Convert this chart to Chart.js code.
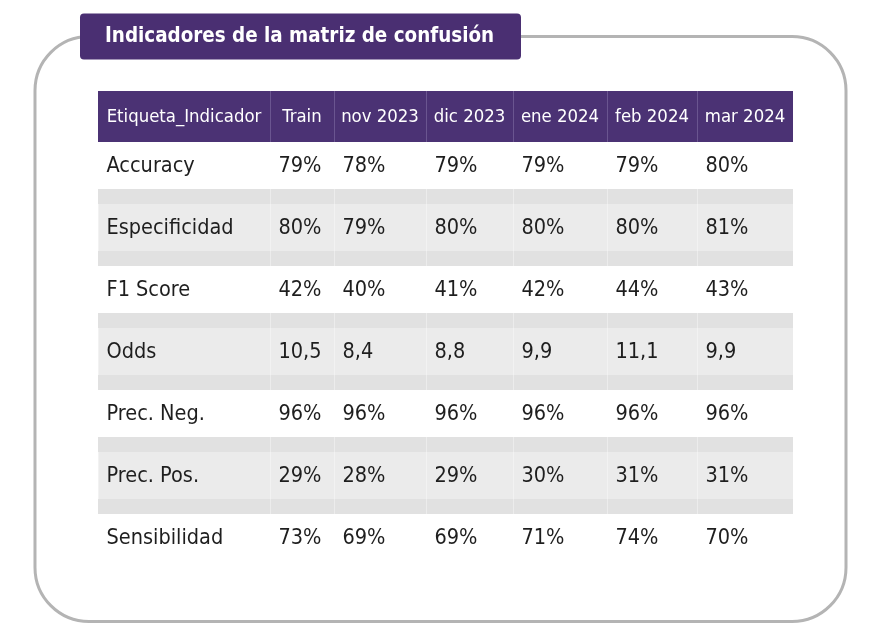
<!DOCTYPE html>
<html><head><meta charset="utf-8">
<script src="https://cdn.jsdelivr.net/npm/chart.js@4.4.1/dist/chart.umd.min.js"></script>
<style>html,body{margin:0;padding:0;background:#fff;}#wrap{position:relative;width:888px;height:638px;}</style>
</head><body><div id="wrap"><canvas id="c"></canvas></div>
<script>
const TITLE = 'Indicadores de la matriz de confusión';
const HEADER_LABEL = 'Etiqueta_Indicador';
const PERIODS = ['Train', 'nov 2023', 'dic 2023', 'ene 2024', 'feb 2024', 'mar 2024'];
const INDICATORS = ['Accuracy', 'Especificidad', 'F1 Score', 'Odds', 'Prec. Neg.', 'Prec. Pos.', 'Sensibilidad'];
const INDICATOR_KIND = ['pct', 'pct', 'pct', 'ratio', 'pct', 'pct', 'pct'];
const TRAIN    = [0.79, 0.80, 0.42, 10.5, 0.96, 0.29, 0.73];
const NOV_2023 = [0.78, 0.79, 0.40, 8.4, 0.96, 0.28, 0.69];
const DIC_2023 = [0.79, 0.80, 0.41, 8.8, 0.96, 0.29, 0.69];
const ENE_2024 = [0.79, 0.80, 0.42, 9.9, 0.96, 0.30, 0.71];
const FEB_2024 = [0.79, 0.80, 0.44, 11.1, 0.96, 0.31, 0.74];
const MAR_2024 = [0.80, 0.81, 0.43, 9.9, 0.96, 0.31, 0.70];
const SERIES = [TRAIN, NOV_2023, DIC_2023, ENE_2024, FEB_2024, MAR_2024];

// layout (pixels-as-units on the hidden x scale)
const COL_W = [172, 64, 92, 87, 94, 90, 96];
const EDGES = COL_W.reduce((a, w) => { a.push(a[a.length - 1] + w); return a; }, [0]);
const TABLE_W = EDGES[EDGES.length - 1];
const FONT = '"DejaVu Sans Condensed", "DejaVu Sans", Tahoma, sans-serif';
const BODY_PX = 21.5, HEAD_PX = 18.4, TITLE_PX = 20.4;
const PURPLE = '#4b3274', TITLE_PURPLE = '#4a2f72';

function fmt(v, kind) {
  return kind === 'pct' ? Math.round(v * 100) + '%' : v.toFixed(1).replace('.', ',');
}

const columns = [INDICATORS].concat(SERIES);
const datasets = columns.map((col, j) => ({
  label: j === 0 ? HEADER_LABEL : PERIODS[j - 1],
  data: INDICATORS.map(() => [EDGES[j], EDGES[j + 1]]),
  texts: INDICATORS.map((name, i) => j === 0 ? name : fmt(col[i], INDICATOR_KIND[i])),
  backgroundColor: INDICATORS.map((_, i) => i % 2 ? '#ebebeb' : '#ffffff'),
  borderColor: INDICATORS.map((_, i) => i % 2 ? '#f6f6f6' : '#ffffff'),
  borderWidth: {left: 1, right: 0, top: 0, bottom: 0},
  borderSkipped: false,
  grouped: false,
  barThickness: 47
}));

const tablePlugin = {
  id: 'tablePlugin',
  beforeDraw(chart) {
    const ctx = chart.ctx;
    ctx.save();
    // rounded frame
    ctx.strokeStyle = '#b4b4b4';
    ctx.lineWidth = 3;
    ctx.beginPath();
    ctx.roundRect(35, 36.5, 811, 585, 54);
    ctx.stroke();
    // title box
    ctx.fillStyle = TITLE_PURPLE;
    ctx.beginPath();
    ctx.roundRect(80, 13.5, 441, 46, 4);
    ctx.fill();
    ctx.fillStyle = '#ffffff';
    ctx.font = 'bold ' + TITLE_PX + 'px ' + FONT;
    ctx.textBaseline = 'middle';
    ctx.textAlign = 'left';
    ctx.fillText(TITLE, 105, 36.5);
    ctx.restore();
  },
  beforeDatasetsDraw(chart) {
    const ctx = chart.ctx, xs = chart.scales.x, ys = chart.scales.y;
    const half = 47 / 2;
    const top = ys.getPixelForValue(0) + half, bottom = ys.getPixelForValue(INDICATORS.length - 1) - half;
    const l = xs.getPixelForValue(0), r = xs.getPixelForValue(TABLE_W);
    ctx.save();
    ctx.fillStyle = '#e1e1e1';
    ctx.fillRect(l, top, r - l, bottom - top);
    ctx.fillStyle = '#ececec';
    for (let i = 0; i < INDICATORS.length - 1; i++) {
      const y0 = ys.getPixelForValue(i) + half, y1 = ys.getPixelForValue(i + 1) - half;
      for (let j = 1; j < EDGES.length - 1; j++) {
        ctx.fillRect(Math.round(xs.getPixelForValue(EDGES[j])), y0, 1, y1 - y0);
      }
    }
    ctx.restore();
  },
  afterDatasetsDraw(chart) {
    const ctx = chart.ctx, xs = chart.scales.x, ys = chart.scales.y;
    const half = 47 / 2;
    const hb = ys.getPixelForValue(0) - half, ht = hb - 51;
    const l = xs.getPixelForValue(0), r = xs.getPixelForValue(TABLE_W);
    ctx.save();
    // header
    ctx.fillStyle = PURPLE;
    ctx.fillRect(l, ht, r - l, hb - ht);
    ctx.fillStyle = '#6a5590';
    for (let j = 1; j < EDGES.length - 1; j++) {
      ctx.fillRect(Math.round(xs.getPixelForValue(EDGES[j])), ht, 1, hb - ht);
    }
    ctx.fillStyle = '#ffffff';
    ctx.font = HEAD_PX + 'px ' + FONT;
    ctx.textBaseline = 'middle';
    ctx.textAlign = 'center';
    chart.data.datasets.forEach((ds, j) => {
      const cx = (xs.getPixelForValue(EDGES[j]) + xs.getPixelForValue(EDGES[j + 1])) / 2;
      ctx.fillText(ds.label, cx, (ht + hb) / 2 + 1);
    });
    // body text
    ctx.fillStyle = '#1e1e1e';
    ctx.font = BODY_PX + 'px ' + FONT;
    ctx.textAlign = 'left';
    chart.data.datasets.forEach((ds, j) => {
      chart.getDatasetMeta(j).data.forEach((el, i) => {
        const p = el.getProps(['x', 'base', 'y'], true);
        ctx.fillText(ds.texts[i], Math.min(p.x, p.base) + 8.5, p.y + 1);
      });
    });
    ctx.restore();
  }
};

new Chart(document.getElementById('c'), {
  type: 'bar',
  data: {labels: INDICATORS, datasets},
  options: {
    indexAxis: 'y',
    responsive: true,
    maintainAspectRatio: false,
    animation: false,
    events: [],
    layout: {padding: {left: 98, right: 95, top: 134.5, bottom: 69.5}},
    scales: {
      x: {type: 'linear', min: 0, max: TABLE_W, display: false},
      y: {type: 'category', display: false, offset: true}
    },
    plugins: {legend: {display: false}, title: {display: false}, tooltip: {enabled: false}}
  },
  plugins: [tablePlugin]
});
</script></body></html>
